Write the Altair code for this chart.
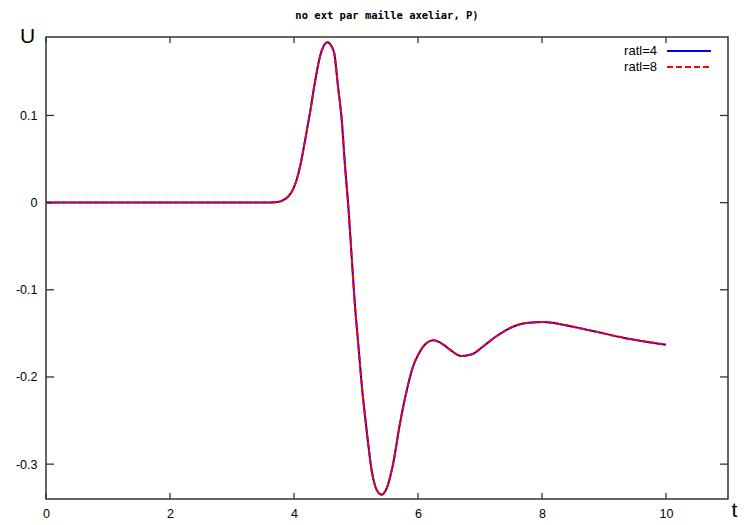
import altair as alt
import pandas as pd

# ---- data ----
t_vals = [0, 1, 2, 3, 3.5, 3.7, 3.83, 3.92, 3.99, 4.05, 4.10, 4.18, 4.26, 4.34, 4.42,
          4.48, 4.54, 4.60, 4.65, 4.71, 4.77, 4.82, 4.88, 4.93, 4.98, 5.04, 5.09,
          5.17, 5.25, 5.33, 5.41, 5.50, 5.60, 5.71, 5.82, 5.92, 6.03, 6.14, 6.25,
          6.41, 6.52, 6.70, 6.87, 7.05, 7.27, 7.51, 7.75, 8.02, 8.34, 8.67, 8.99,
          9.31, 9.63, 10.0]
u_ratl4 = [0, 0, 0, 0, 0, 0.0005, 0.003, 0.008, 0.016, 0.028, 0.042, 0.072, 0.104,
           0.139, 0.168, 0.180, 0.184, 0.180, 0.171, 0.133, 0.095, 0.045, -0.008,
           -0.062, -0.115, -0.165, -0.207, -0.260, -0.306, -0.329, -0.335, -0.327,
           -0.299, -0.253, -0.215, -0.188, -0.171, -0.161, -0.158, -0.163, -0.169,
           -0.176, -0.174, -0.165, -0.153, -0.143, -0.138, -0.137, -0.140, -0.145,
           -0.150, -0.155, -0.159, -0.163]
u_ratl8 = [0, 0, 0, 0, 0, 0.0005, 0.003, 0.008, 0.016, 0.028, 0.042, 0.072, 0.104,
           0.139, 0.168, 0.180, 0.184, 0.180, 0.171, 0.133, 0.095, 0.045, -0.008,
           -0.062, -0.115, -0.165, -0.207, -0.260, -0.306, -0.329, -0.335, -0.327,
           -0.299, -0.253, -0.215, -0.188, -0.171, -0.161, -0.158, -0.163, -0.169,
           -0.176, -0.174, -0.165, -0.153, -0.143, -0.138, -0.137, -0.140, -0.145,
           -0.150, -0.155, -0.159, -0.163]
series_names = ["ratl=4", "ratl=8"]
x_ticks = [0, 2, 4, 6, 8, 10]
y_ticks = [-0.3, -0.2, -0.1, 0, 0.1]
x_domain = [0, 11]
y_domain = [-0.34, 0.19]
title_text = "no ext par maille axeliar, P)"

W, H = 682, 462
FONT = "Liberation Sans"

df4 = pd.DataFrame({"t": t_vals, "U": u_ratl4})
df8 = pd.DataFrame({"t": t_vals, "U": u_ratl8})
xt = pd.DataFrame({"t": x_ticks})
yt = pd.DataFrame({"U": y_ticks})

xs = alt.Scale(domain=x_domain, nice=False, zero=False)
ys = alt.Scale(domain=y_domain, nice=False, zero=False)

x_axis = alt.Axis(values=x_ticks, ticks=False, domain=False, grid=False,
                  labelFont=FONT, labelFontSize=12.5, labelColor="#000",
                  labelPadding=8, title="t", titleFont=FONT,
                  titleFontSize=21, titleFontWeight="normal", titleColor="#000",
                  titleX=688, titleY=11, titleAlign="center",
                  titleBaseline="middle", labelFlush=False)
y_axis = alt.Axis(values=y_ticks, ticks=False, domain=False, grid=False,
                  labelFont=FONT, labelFontSize=12.5, labelColor="#000",
                  labelPadding=9,
                  labelExpr="datum.value == 0 ? '0' : toString(round(datum.value*10)/10)",
                  title="U", titleFont=FONT, titleFontSize=21,
                  titleFontWeight="normal", titleColor="#000", titleAngle=0,
                  titleX=-19, titleY=-1, titleAlign="center",
                  titleBaseline="middle", labelFlush=False)

X = alt.X("t:Q", scale=xs, axis=x_axis)
Y = alt.Y("U:Q", scale=ys, axis=y_axis)

line4 = alt.Chart(df4).mark_line(color="#0000ff", strokeWidth=2,
                                 interpolate="monotone").encode(x=X, y=Y)
line8 = alt.Chart(df8).mark_line(color="#ff0000", strokeWidth=2,
                                 strokeDash=[6, 2],
                                 interpolate="monotone").encode(x=X, y=Y)

tick_col = "#333333"
ytick_l = alt.Chart(yt).mark_rule(color=tick_col, strokeWidth=1.3).encode(
    y=Y, x=alt.value(0), x2=alt.value(8))
ytick_r = alt.Chart(yt).mark_rule(color=tick_col, strokeWidth=1.3).encode(
    y=Y, x=alt.value(W - 8), x2=alt.value(W))
xtick_b = alt.Chart(xt).mark_rule(color=tick_col, strokeWidth=1.3).encode(
    x=X, y=alt.value(H - 6), y2=alt.value(H))
xtick_t = alt.Chart(xt).mark_rule(color=tick_col, strokeWidth=1.3).encode(
    x=X, y=alt.value(0), y2=alt.value(6))

leg_src = pd.DataFrame({"dummy": [0]})
leg_t1 = alt.Chart(leg_src).mark_text(align="right", baseline="middle",
                                     font=FONT, fontSize=13, color="#000").encode(
    x=alt.value(611), y=alt.value(14), text=alt.value(series_names[0]))
leg_t2 = alt.Chart(leg_src).mark_text(align="right", baseline="middle",
                                     font=FONT, fontSize=13, color="#000").encode(
    x=alt.value(611), y=alt.value(30), text=alt.value(series_names[1]))
leg_l1 = alt.Chart(leg_src).mark_rule(color="#0000ff", strokeWidth=2).encode(
    x=alt.value(621), x2=alt.value(665), y=alt.value(14))
leg_l2 = alt.Chart(leg_src).mark_rule(color="#ff0000", strokeWidth=2,
                                     strokeDash=[6, 3]).encode(
    x=alt.value(621), x2=alt.value(665), y=alt.value(30))

chart = alt.layer(
    line4, line8, ytick_l, ytick_r, xtick_b, xtick_t,
    leg_t1, leg_t2, leg_l1, leg_l2
).properties(
    width=W, height=H,
    title=alt.TitleParams(title_text, font="DejaVu Sans Mono", fontSize=10.5,
                          fontWeight="bold", color="#000", anchor="middle",
                          offset=4),
    autosize="none",
    padding={"left": 38, "top": 29, "right": 10, "bottom": 21},
).configure(
    background="white",
    view=alt.ViewConfig(stroke="#333333", strokeWidth=1.5),
)

chart.save("out.html", embed_options={"renderer": "svg", "actions": False})
